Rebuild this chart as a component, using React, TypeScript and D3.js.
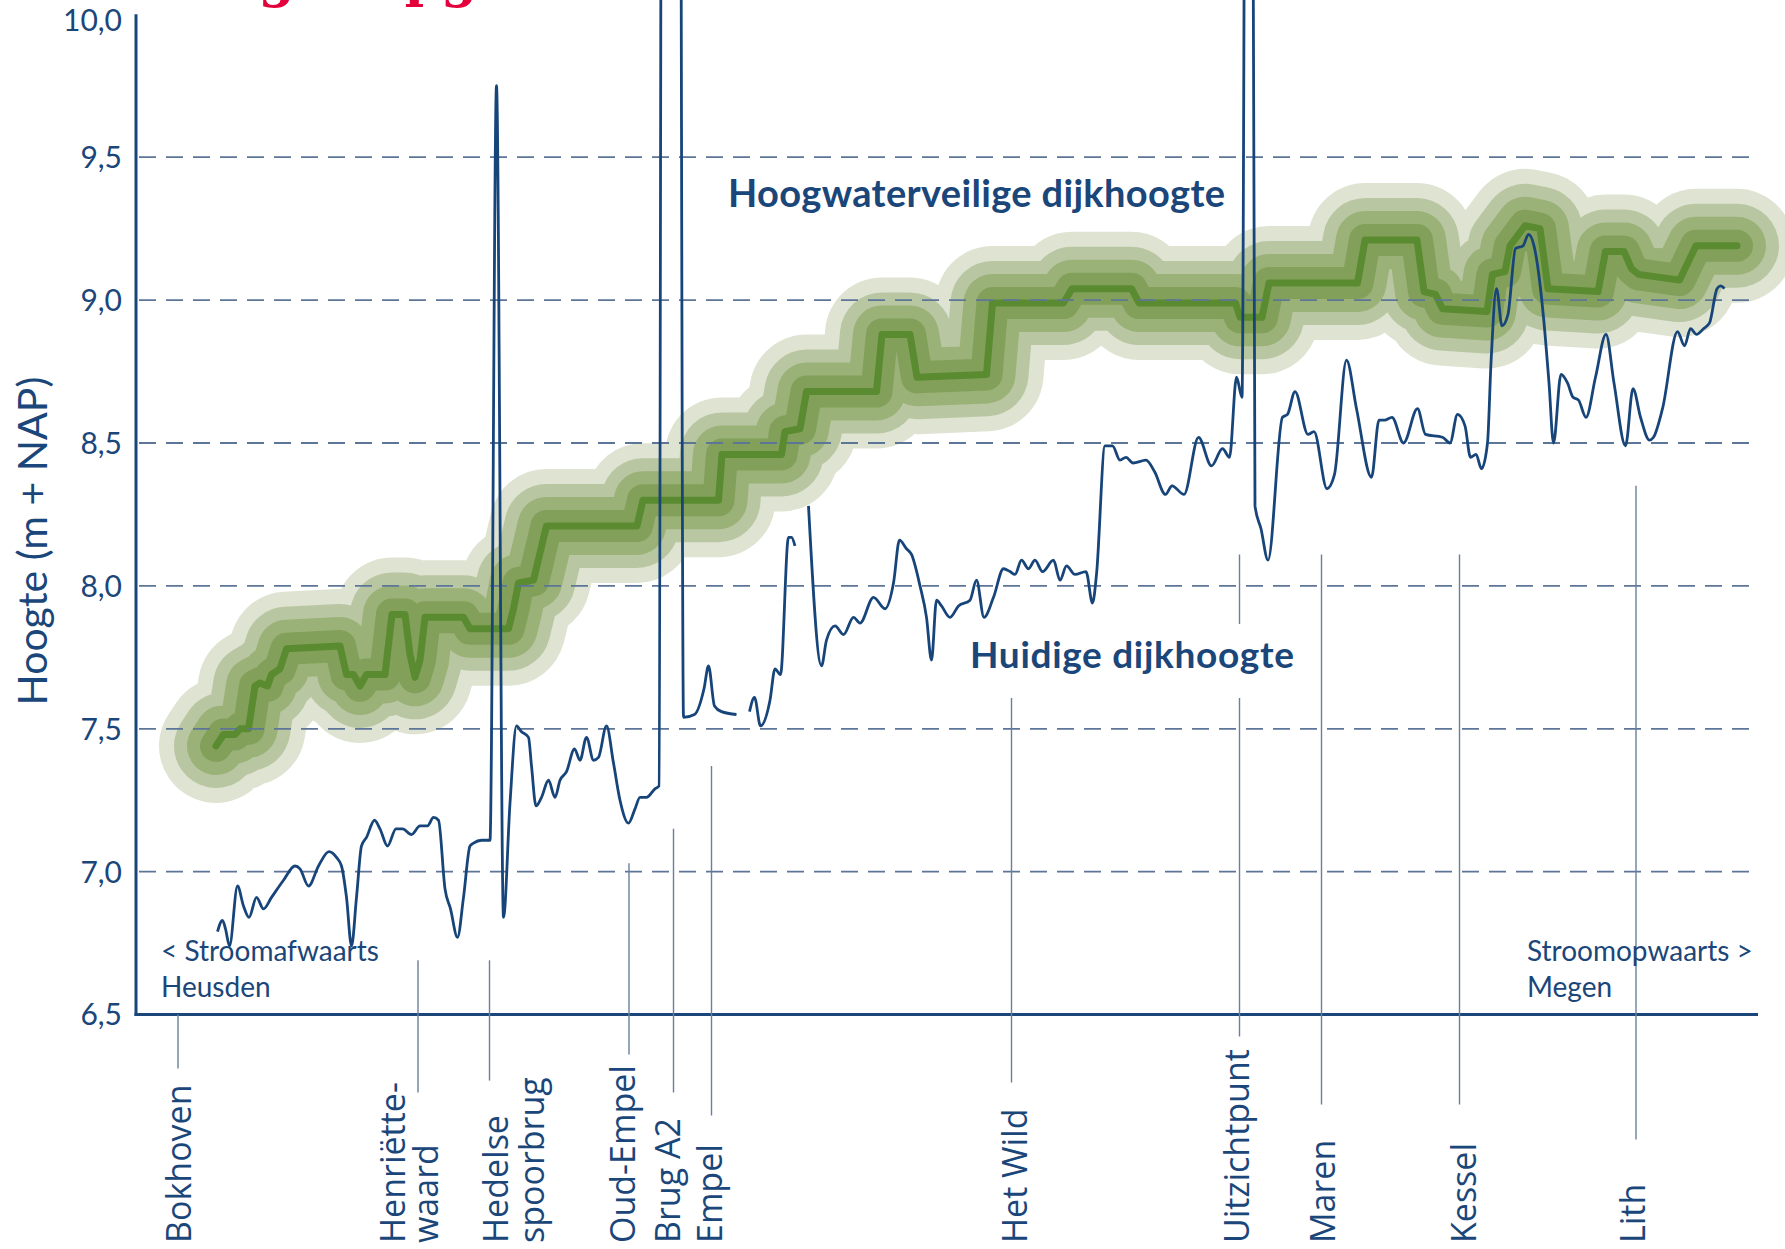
import React from 'react';
import * as d3 from 'd3';

const W = 1785;
const H = 1249;

// Y axis ticks (m + NAP)
const yTicks = [6.5, 7.0, 7.5, 8.0, 8.5, 9.0, 9.5, 10.0];
const yTickLabels = ['6,5', '7,0', '7,5', '8,0', '8,5', '9,0', '9,5', '10,0'];
const gridTicks = [7.0, 7.5, 8.0, 8.5, 9.0, 9.5];

// Huidige dijkhoogte: distance along dike (km) and height (m + NAP); null = no data
const currentKm = [
  1.63, 1.73, 1.79, 1.87, 2.03, 2.15, 2.26, 2.41, 2.55, 2.71,
  2.95, 3.18, 3.28, 3.45, 3.65, 3.86, 4.01, 4.11, 4.21, 4.31,
  4.41, 4.51, 4.61, 4.77, 4.88, 5.03, 5.20, 5.33, 5.51, 5.68,
  5.83, 5.95, 6.05, 6.18, 6.29, 6.43, 6.55, 6.68, 6.75, 6.91,
  7.08, 7.21, 7.35, 7.48, 7.61, 7.71, 7.85, 7.91, 8.00, 8.11,
  8.25, 8.38, 8.48, 8.61, 8.77, 8.88, 9.01, 9.15, 9.25, 9.41,
  9.55, 9.68, 9.85, 9.98, 10.08, 10.21, 10.38, 10.46, 10.53, 10.86,
  10.95, 11.17, 11.36, 11.45, 11.57, 11.71, 12.01,
  12.14,
  12.27, 12.37, 12.49, 12.68, 12.78, 12.89, 13.05, 13.11, 13.18,
  13.3,
  13.45, 13.71, 13.81, 13.98, 14.15, 14.35, 14.48, 14.75, 14.98, 15.15,
  15.27, 15.41, 15.51, 15.68, 15.81, 15.91, 16.01, 16.11, 16.28, 16.45,
  16.68, 16.81, 16.96, 17.15, 17.35, 17.48, 17.58, 17.71, 17.85, 17.98,
  18.13, 18.35, 18.48, 18.61, 18.78, 19.00, 19.13, 19.21, 19.38, 19.53,
  19.68, 19.80, 19.94, 20.20, 20.37, 20.59, 20.72, 20.96, 21.25, 21.51,
  21.73, 21.87, 22.01, 22.12, 22.22, 22.30, 22.38, 22.50, 22.64, 22.93,
  23.03, 23.18, 23.44, 23.56, 23.82, 23.97, 24.21, 24.41, 24.71, 24.86,
  24.97, 25.12, 25.35, 25.63, 25.79, 26.13, 26.28, 26.43, 26.58, 26.69,
  26.80, 26.91, 27.03, 27.10, 27.21, 27.32, 27.44, 27.59, 27.74, 27.85,
  27.96, 28.15, 28.26, 28.35, 28.50, 28.63, 28.74, 28.85, 29.00, 29.19,
  29.40, 29.56, 29.79, 29.94, 30.09, 30.27, 30.35, 30.53, 30.83, 30.97,
  31.09, 31.21, 31.35, 31.47, 31.62, 31.69, 31.77,
];
const currentHeight: (number | null)[] = [
  6.79, 6.83, 6.80, 6.74, 6.95, 6.88, 6.84, 6.91, 6.87, 6.91,
  6.97, 7.02, 7.01, 6.95, 7.02, 7.07, 7.05, 7.02, 6.91, 6.74,
  6.91, 7.09, 7.12, 7.18, 7.15, 7.09, 7.15, 7.15, 7.13, 7.16,
  7.16, 7.19, 7.18, 6.94, 6.87, 6.77, 6.91, 7.09, 7.10, 7.11,
  7.11, 9.75, 6.84, 7.24, 7.51, 7.49, 7.47, 7.37, 7.23, 7.26,
  7.32, 7.26, 7.32, 7.35, 7.43, 7.39, 7.47, 7.39, 7.40, 7.51,
  7.38, 7.25, 7.17, 7.22, 7.26, 7.26, 7.29, 7.30, 12.5, 12.5,
  7.54, 7.55, 7.64, 7.72, 7.58, 7.56, 7.55,
  null,
  7.56, 7.61, 7.51, 7.60, 7.71, 7.69, 8.17, 8.17, 8.14,
  null,
  8.28, 7.72, 7.81, 7.86, 7.83, 7.89, 7.87, 7.96, 7.92, 8.01,
  8.16, 8.13, 8.11, 8.00, 7.89, 7.74, 7.95, 7.93, 7.89, 7.93,
  7.95, 8.02, 7.89, 7.96, 8.06, 8.05, 8.04, 8.09, 8.06, 8.09,
  8.05, 8.09, 8.02, 8.07, 8.04, 8.05, 7.94, 8.04, 8.49, 8.49,
  8.44, 8.45, 8.43, 8.44, 8.40, 8.32, 8.35, 8.32, 8.52, 8.42,
  8.48, 8.45, 8.73, 8.66, 12.5, 12.5, 8.28, 8.20, 8.09, 8.59,
  8.60, 8.68, 8.53, 8.54, 8.34, 8.39, 8.79, 8.62, 8.38, 8.58,
  8.58, 8.59, 8.50, 8.62, 8.53, 8.52, 8.50, 8.60, 8.56, 8.45,
  8.46, 8.41, 8.50, 8.78, 9.04, 8.91, 8.95, 9.18, 9.19, 9.23,
  9.19, 8.94, 8.71, 8.50, 8.74, 8.71, 8.66, 8.65, 8.59, 8.73,
  8.88, 8.71, 8.49, 8.69, 8.59, 8.51, 8.52, 8.62, 8.89, 8.84,
  8.90, 8.88, 8.90, 8.92, 9.04, 9.05, 9.04,
];

// Hoogwaterveilige dijkhoogte
const safeKm = [
  1.60, 1.75, 1.98, 2.08, 2.25, 2.38, 2.48, 2.63, 2.71, 2.88,
  3.01, 4.08, 4.21, 4.35, 4.48, 4.61, 4.98, 5.12, 5.38, 5.48,
  5.58, 5.68, 5.78, 6.55, 6.68, 7.45, 7.55, 7.65, 7.95, 8.21,
  8.41, 10.02, 10.14, 11.65, 11.72, 12.91, 12.98, 13.28, 13.41, 14.81,
  14.92, 15.48, 15.62, 17.01, 17.13, 18.55, 18.72, 19.91, 20.06, 21.99,
  22.08, 22.52, 22.66, 24.43, 24.58, 25.62, 25.76, 25.99, 26.13, 27.02,
  27.13, 27.38, 27.48, 27.78, 28.08, 28.24, 29.24, 29.39, 29.76, 29.91,
  30.05, 30.87, 31.20, 32.02,
];
const safeHeight = [
  7.44, 7.48, 7.48, 7.50, 7.50, 7.65, 7.66, 7.65, 7.69, 7.71,
  7.78, 7.79, 7.69, 7.69, 7.65, 7.69, 7.69, 7.90, 7.90, 7.76,
  7.68, 7.74, 7.89, 7.89, 7.85, 7.85, 7.92, 8.01, 8.02, 8.21,
  8.21, 8.21, 8.30, 8.30, 8.46, 8.46, 8.54, 8.55, 8.68, 8.68,
  8.88, 8.88, 8.73, 8.74, 8.99, 8.99, 9.04, 9.04, 8.99, 8.99,
  8.94, 8.94, 9.06, 9.06, 9.21, 9.21, 9.03, 9.02, 8.97, 8.96,
  9.09, 9.10, 9.19, 9.26, 9.25, 9.04, 9.03, 9.17, 9.17, 9.11,
  9.09, 9.07, 9.19, 9.19,
];

// Locations along the dike
const locationLabels = [
  ['Bokhoven'], ['Henriëtte-', 'waard'], ['Hedelse', 'spoorbrug'], ['Oud-Empel'],
  ['Brug A2'], ['Empel'], ['Het Wild'], ['Uitzichtpunt'], ['Maren'], ['Kessel'], ['Lith'],
];
const locationKm = [0.84, 5.64, 7.07, 9.86, 10.75, 11.51, 17.51, 22.07, 23.71, 26.47, 30.0];
const locationTopHeight = [6.5, 6.69, 6.69, 7.03, 7.15, 7.37, 7.61, 8.11, 8.11, 8.11, 8.35];

// layout (pixels)
const markerBelow = [54, 78, 66, 40, 78, 101, 68, 22, 90, 90, 125];
const labelDx = [[13], [-13, 20], [18, 54], [6], [6], [10], [15], [9], [13], [16], [9]];

const NAVY = '#1b4679';
const haloWidths = [114, 84, 58, 32];
const haloColors = ['#dfe3d2', '#b9c6a2', '#9ab177', '#82a05a'];

export default function App() {
  const x = d3.scaleLinear().domain([0, 32.44]).range([136, 1758]);
  const y = d3.scaleLinear().domain([6.5, 10]).range([1014.6, 14.3]);

  const current = currentKm.map((k, i) => ({ k, h: currentHeight[i] }));
  const safe = safeKm.map((k, i) => ({ k, h: safeHeight[i] }));

  const blueLine = d3
    .line<{ k: number; h: number | null }>()
    .defined((d) => d.h != null)
    .x((d) => x(d.k))
    .y((d) => y(d.h as number))
    .curve(d3.curveMonotoneX);
  const greenLine = d3
    .line<{ k: number; h: number }>()
    .x((d) => x(d.k))
    .y((d) => y(d.h))
    .curve(d3.curveLinear);

  const greenD = greenLine(safe) || '';
  const blueD = blueLine(current) || '';
  const axisY = y(6.5);

  return (
    <svg
      width={W}
      height={H}
      viewBox={`0 0 ${W} ${H}`}
      style={{ position: 'absolute', left: 0, top: 0, background: '#ffffff' }}
    >
      <rect x={0} y={0} width={W} height={H} fill="#ffffff" />
      {/* cropped title (only its lower edge is inside the picture) */}
      <text x={140} y={-4} fontFamily="'DejaVu Serif', serif" fontWeight="bold" fontSize={52} fill="#e3003b">
        Hoogte opgave
      </text>

      {/* green safe-height band */}
      <g fill="none" strokeLinecap="round" strokeLinejoin="round">
        {haloWidths.map((w, i) => (
          <path key={i} d={greenD} stroke={haloColors[i]} strokeWidth={w} />
        ))}
        <path d={greenD} stroke="#5a8b30" strokeWidth={7} />
      </g>

      {/* gridlines */}
      <g>
        {gridTicks.map((t) => (
          <line key={t} x1={139} x2={1758} y1={y(t)} y2={y(t)} stroke="#5d7596" strokeWidth={1.8} strokeDasharray="17 10" />
        ))}
      </g>

      {/* axes */}
      <line x1={136} x2={136} y1={y(10)} y2={axisY + 1.5} stroke={NAVY} strokeWidth={3} />
      <line x1={134.5} x2={1758} y1={axisY} y2={axisY} stroke={NAVY} strokeWidth={3} />

      {/* location markers */}
      <g>
        {locationKm.map((k, i) => (
          <line
            key={i}
            x1={x(k)}
            x2={x(k)}
            y1={y(locationTopHeight[i])}
            y2={axisY + markerBelow[i]}
            stroke="#6a7f9c"
            strokeWidth={1.4}
          />
        ))}
      </g>

      {/* annotation: Huidige dijkhoogte (white knock-out box) */}
      <rect x={962} y={624} width={340} height={74} fill="#ffffff" />
      <text
        x={970}
        y={668}
        fontFamily="Lato, sans-serif"
        fontWeight="bold"
        fontSize={37}
        fill={NAVY}
        textLength={324}
        lengthAdjust="spacing"
      >
        Huidige dijkhoogte
      </text>

      {/* current dike height */}
      <path d={blueD} fill="none" stroke="#17457a" strokeWidth={2.8} strokeLinejoin="round" />

      {/* annotation: Hoogwaterveilige dijkhoogte */}
      <text
        x={728}
        y={207}
        fontFamily="Lato, sans-serif"
        fontWeight="bold"
        fontSize={38}
        fill={NAVY}
        textLength={497}
        lengthAdjust="spacing"
      >
        Hoogwaterveilige dijkhoogte
      </text>

      {/* y tick labels */}
      <g fontFamily="Lato, sans-serif" fontSize={30} fill={NAVY} textAnchor="end">
        {yTicks.map((t, i) => (
          <text key={t} x={122} y={Math.max(y(t), 20)} dy="0.36em">
            {yTickLabels[i]}
          </text>
        ))}
      </g>

      {/* y axis title */}
      <text
        transform="translate(47,541) rotate(-90)"
        textAnchor="middle"
        fontFamily="Lato, sans-serif"
        fontSize={41}
        fill={NAVY}
      >
        Hoogte (m + NAP)
      </text>

      {/* direction notes */}
      <g fontFamily="Lato, sans-serif" fontSize={28} fill={NAVY}>
        <text x={161} y={961}>&lt; Stroomafwaarts</text>
        <text x={161} y={997}>Heusden</text>
        <text x={1527} y={961}>Stroomopwaarts &gt;</text>
        <text x={1527} y={997}>Megen</text>
      </g>

      {/* location labels */}
      <g fontFamily="'Open Sans', sans-serif" fontSize={34} fill={NAVY}>
        {locationLabels.map((lines, i) =>
          lines.map((ln, j) => (
            <text key={`${i}-${j}`} transform={`translate(${x(locationKm[i]) + labelDx[i][j]},1243) rotate(-90)`}>
              {ln}
            </text>
          ))
        )}
      </g>
    </svg>
  );
}
